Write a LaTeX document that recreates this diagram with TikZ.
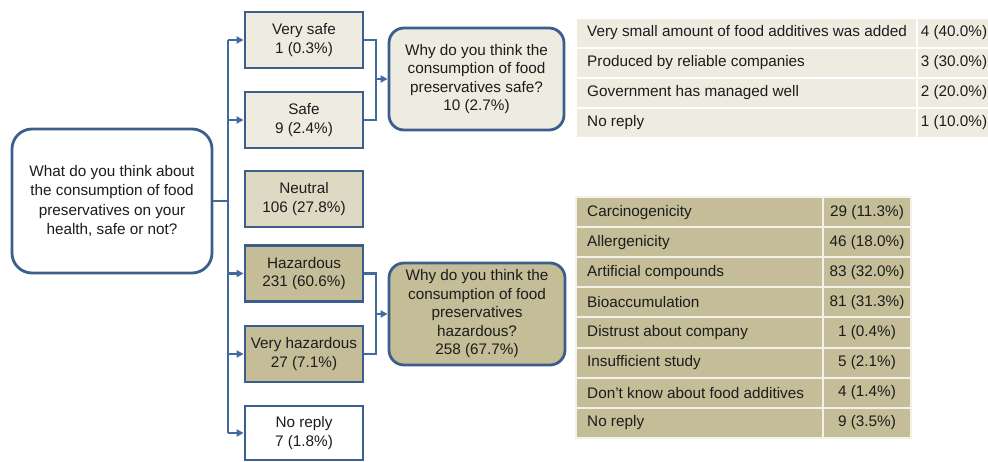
\documentclass[tikz,border=0pt]{standalone}
\usepackage{fontspec}
\setmainfont{Liberation Sans}
\usetikzlibrary{arrows.meta}
\definecolor{bord}{HTML}{3B5E8C}
\definecolor{lnk}{HTML}{416AA0}
\definecolor{lbeige}{HTML}{EEECE1}
\definecolor{mbeige}{HTML}{DDD9C3}
\definecolor{tanc}{HTML}{C4BD97}
\definecolor{txt}{HTML}{1C1C1C}
\begin{document}
\begin{tikzpicture}[x=1pt,y=-1pt,
  font=\fontsize{15.3}{18.5}\selectfont, text=txt,
  mainbox/.style={draw=bord, line width=2.8pt, fill=white, rounded corners=20pt,
    minimum width=200pt, minimum height=144pt, align=center, inner sep=0pt,
    font=\fontsize{15.3}{19.5}\selectfont},
  ansbox/.style={draw=bord, line width=2.8pt, minimum width=118pt, minimum height=56pt,
    align=center, inner sep=0pt},
  whybox/.style={draw=bord, line width=2.8pt, rounded corners=15pt,
    minimum width=175pt, minimum height=102pt, align=center, inner sep=0pt},
  conn/.style={draw=lnk, line width=2.4pt},
  arr/.style={conn, -{Triangle[length=7pt,width=7pt]}},
  cellA/.style={fill=lbeige, draw=white, line width=2pt, inner sep=0pt,
    minimum height=30pt, anchor=north west},
  cellB/.style={fill=tanc, draw=white!80!tanc, line width=2pt, inner sep=0pt,
    minimum height=30.1pt, anchor=north west},
  lbl/.style={anchor=west, inner sep=0pt}
]
\useasboundingbox (0,0) rectangle (988,461);

% question
\node[mainbox] (q) at (112,201) {What do you think about\\the consumption of food\\preservatives on your\\health, safe or not?};

% answers
\node[ansbox, fill=lbeige] (vs) at (304,40) {Very safe\\1 (0.3\%)};
\node[ansbox, fill=lbeige] (sf) at (304,120) {Safe\\9 (2.4\%)};
\node[ansbox, fill=mbeige] (ne) at (304,199) {Neutral\\106 (27.8\%)};
\node[ansbox, fill=tanc] (hz) at (304,273.5) {Hazardous\\231 (60.6\%)};
\node[ansbox, fill=tanc] (vh) at (304,354) {Very hazardous\\27 (7.1\%)};
\node[ansbox, fill=white, minimum height=54pt] (nr) at (304,433) {No reply\\7 (1.8\%)};

% why boxes
\node[whybox, fill=lbeige] (ws) at (476.5,79) {Why do you think the\\consumption of food\\preservatives safe?\\10 (2.7\%)};
\node[whybox, fill=tanc, minimum width=176pt] (wh) at (477,314) {Why do you think the\\consumption of food\\preservatives\\hazardous?\\258 (67.7\%)};

% trunk
\coordinate (tt) at (228,40);
\coordinate (tb) at (228,433);
\draw[conn] (q.east) -- (q.east -| tt);
\draw[conn] (tt) -- (tb);
\draw[arr] (tt) -- (vs.west);
\draw[arr] (tt |- sf.west) -- (sf.west);
\draw[arr] (tt |- hz.west) -- (hz.west);
\draw[arr] (tt |- vh.west) -- (vh.west);
\draw[arr] (tb) -- (nr.west);

% brackets
\coordinate (bs) at (376,79);
\coordinate (bh) at (376,314);
\draw[conn] (vs.east) -| (bs) |- (sf.east);
\draw[arr] (bs) -- (ws.west);
\draw[conn] (hz.east) -| (bh) |- (vh.east);
\draw[arr] (bh) -- (wh.west);

% safe table
\node[cellA, minimum width=341pt] (s1a) at (575,17) {};
\node[cellA, minimum width=74pt] (s1b) at (916,17) {4 (40.0\%)};
\node[cellA, minimum width=341pt] (s2a) at (575,47) {};
\node[cellA, minimum width=74pt] (s2b) at (916,47) {3 (30.0\%)};
\node[cellA, minimum width=341pt] (s3a) at (575,77) {};
\node[cellA, minimum width=74pt] (s3b) at (916,77) {2 (20.0\%)};
\node[cellA, minimum width=341pt] (s4a) at (575,107) {};
\node[cellA, minimum width=74pt] (s4b) at (916,107) {1 (10.0\%)};
\node[lbl] at ([xshift=12pt]s1a.west) {Very small amount of food additives was added};
\node[lbl] at ([xshift=12pt]s2a.west) {Produced by reliable companies};
\node[lbl] at ([xshift=12pt]s3a.west) {Government has managed well};
\node[lbl] at ([xshift=12pt]s4a.west) {No reply};

% hazardous table
\node[cellB, minimum width=247pt] (h1a) at (575,196) {};
\node[cellB, minimum width=88pt] (h1b) at (822,196) {29 (11.3\%)};
\node[cellB, minimum width=247pt] (h2a) at (575,226.1) {};
\node[cellB, minimum width=88pt] (h2b) at (822,226.1) {46 (18.0\%)};
\node[cellB, minimum width=247pt] (h3a) at (575,256.2) {};
\node[cellB, minimum width=88pt] (h3b) at (822,256.2) {83 (32.0\%)};
\node[cellB, minimum width=247pt] (h4a) at (575,286.3) {};
\node[cellB, minimum width=88pt] (h4b) at (822,286.3) {81 (31.3\%)};
\node[cellB, minimum width=247pt] (h5a) at (575,316.4) {};
\node[cellB, minimum width=88pt] (h5b) at (822,316.4) {1 (0.4\%)};
\node[cellB, minimum width=247pt] (h6a) at (575,346.5) {};
\node[cellB, minimum width=88pt] (h6b) at (822,346.5) {5 (2.1\%)};
\node[cellB, minimum width=247pt] (h7a) at (575,376.6) {};
\node[cellB, minimum width=88pt] (h7b) at (822,376.6) {4 (1.4\%)};
\node[cellB, minimum width=247pt] (h8a) at (575,406.7) {};
\node[cellB, minimum width=88pt] (h8b) at (822,406.7) {9 (3.5\%)};
\node[lbl] at ([xshift=12pt]h1a.west) {Carcinogenicity};
\node[lbl] at ([xshift=12pt]h2a.west) {Allergenicity};
\node[lbl] at ([xshift=12pt]h3a.west) {Artificial compounds};
\node[lbl] at ([xshift=12pt]h4a.west) {Bioaccumulation};
\node[lbl] at ([xshift=12pt]h5a.west) {Distrust about company};
\node[lbl] at ([xshift=12pt]h6a.west) {Insufficient study};
\node[lbl] at ([xshift=12pt]h7a.west) {Don't know about food additives};
\node[lbl] at ([xshift=12pt]h8a.west) {No reply};
\end{tikzpicture}
\end{document}
